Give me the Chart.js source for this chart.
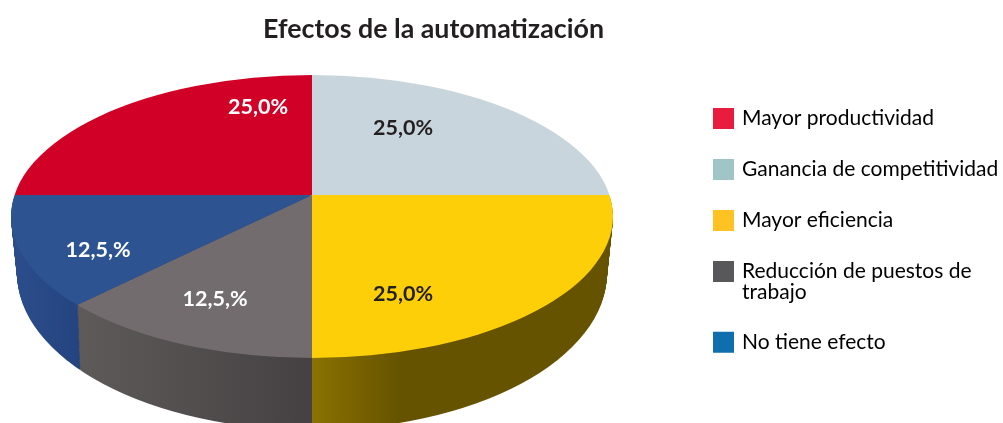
<!DOCTYPE html>
<html>
<head>
<meta charset="utf-8">
<style>
  html, body { margin: 0; padding: 0; background: #fff; }
  #wrap { position: relative; width: 1003px; height: 423px; overflow: hidden; }
</style>
<script src="https://cdn.jsdelivr.net/npm/chart.js@4"></script>
</head>
<body>
<div id="wrap"><canvas id="pie" width="1003" height="423"></canvas></div>
<script>
const categories = ['Mayor productividad', 'Ganancia de competitividad', 'Mayor eficiencia', ['Reducción de puestos de', 'trabajo'], 'No tiene efecto'];
const values = [25, 25, 25, 12.5, 12.5];
const valueLabels = ['25,0%', '25,0%', '25,0%', '12,5,%', '12,5,%'];
const faceColors = ['#d00027', '#c9d5dc', '#fdcf08', '#736c6e', '#2d5391'];
const legendColors = ['#e81c3f', '#9fc5c6', '#fec322', '#58585a', '#0f6fae'];
const labelColors = ['#ffffff', '#231f20', '#231f20', '#ffffff', '#ffffff'];

// side wall shading per slice, as [pixel x, colour]
const sideStops = [null, null,
  [[312, '#8a7200'], [400, '#665300'], [612, '#665300']],
  [[80, '#5f5a5a'], [312, '#454041']],
  [[15, '#2b4d8b'], [80, '#24447f']]];

// where the percentage labels sit
const labelPos = [[258, 107], [403, 128], [403, 294], [215, 299], [98, 250]];

// the pie is seen in perspective: apex (312,195) is above the centre of the top ellipse
const top3d = { cx: 312, cy: 216.5, rx: 301, ry: 141.5, apex: 195 };
const bottom3d = { cx: 312, cy: 273, rx: 295, ry: 157, apex: 261 };
const SLANT = 235 / 110;
const LAYERS = 70;

function lerp(a, b, t) { return a + (b - a) * t; }

function drawSlices(ctx, arcs, t, fill) {
  const e = {
    cx: lerp(top3d.cx, bottom3d.cx, t), cy: lerp(top3d.cy, bottom3d.cy, t),
    rx: lerp(top3d.rx, bottom3d.rx, t), ry: lerp(top3d.ry, bottom3d.ry, t),
    apex: lerp(top3d.apex, bottom3d.apex, t)
  };
  ctx.save();
  ctx.beginPath();
  ctx.ellipse(e.cx, e.cy, e.rx, e.ry, 0, 0, Math.PI * 2);
  ctx.clip();
  arcs.forEach(function (arc) {
    const sy = 180 / arc.outerRadius;
    const sx = sy * SLANT;
    ctx.save();
    ctx.translate(e.cx, e.apex);
    ctx.scale(sx, sy);
    ctx.translate(-arc.x, -arc.y);
    const copy = Object.create(arc);
    copy.options = Object.assign({}, arc.options, { backgroundColor: fill(arc, sx), borderWidth: 0 });
    copy.draw(ctx);
    ctx.restore();
  });
  ctx.restore();
}

const pie3d = {
  id: 'pie3d',
  afterLayout(chart) {
    chart.titleBlock.left = 263;
    chart.titleBlock.right = 604;
    chart.legend.left = 685.5;
    chart.legend.top = 78;
  },
  beforeDatasetDraw(chart, args) {
    const ctx = chart.ctx;
    const arcs = args.meta.data;
    const front = arcs.filter(function (a) { return Math.sin((a.startAngle + a.endAngle) / 2) > 0; });
    const sideFill = function (arc, sx) {
      const stops = sideStops[arcs.indexOf(arc)];
      const x0 = arc.x + (stops[0][0] - top3d.cx) / sx;
      const x1 = arc.x + (stops[stops.length - 1][0] - top3d.cx) / sx;
      const g = ctx.createLinearGradient(x0, 0, x1, 0);
      stops.forEach(function (s) { g.addColorStop((s[0] - stops[0][0]) / (stops[stops.length - 1][0] - stops[0][0]), s[1]); });
      return g;
    };
    for (let i = LAYERS; i > 0; i--) {
      drawSlices(ctx, front, i / LAYERS, sideFill);
    }
    drawSlices(ctx, arcs, 0, function (arc) { return arc.options.backgroundColor; });
    return false;
  },
  afterDatasetsDraw(chart) {
    const ctx = chart.ctx;
    ctx.save();
    ctx.font = '700 21.5px Lato';
    ctx.textAlign = 'center';
    ctx.textBaseline = 'middle';
    valueLabels.forEach(function (text, i) {
      ctx.fillStyle = labelColors[i];
      ctx.fillText(text, labelPos[i][0], labelPos[i][1]);
    });
    ctx.restore();
  }
};

new Chart(document.getElementById('pie'), {
  type: 'pie',
  data: {
    labels: categories,
    datasets: [{
      data: values,
      backgroundColor: faceColors,
      borderWidth: 0
    }]
  },
  options: {
    responsive: false,
    animation: false,
    rotation: -90,
    layout: { padding: 0 },
    plugins: {
      tooltip: { enabled: false },
      title: {
        display: true,
        text: 'Efectos de la automatización',
        color: '#231f20',
        font: { family: 'Lato', size: 26.9, weight: '700' },
        padding: { top: 13, bottom: 10 }
      },
      legend: {
        position: 'right',
        align: 'start',
        labels: {
          boxWidth: 16,
          boxHeight: 16,
          padding: 30,
          color: '#3a3a3c',
          font: { family: 'Lato', size: 21, lineHeight: 0.97 },
          generateLabels: function () {
            return categories.map(function (c, i) {
              return { text: c, fillStyle: legendColors[i], strokeStyle: legendColors[i], lineWidth: 5, index: i };
            });
          }
        }
      }
    }
  },
  plugins: [pie3d]
});
</script>
</body>
</html>
